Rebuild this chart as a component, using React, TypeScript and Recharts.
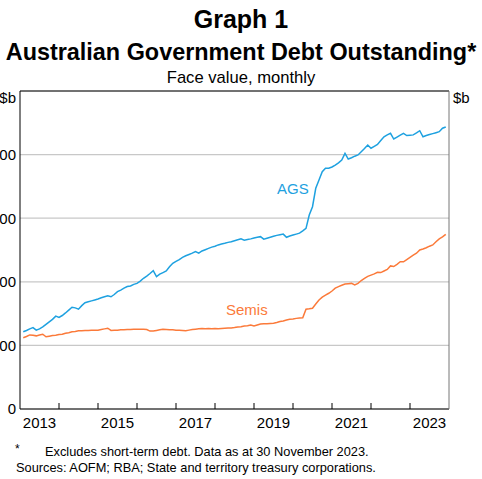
import {
  CartesianGrid,
  Line,
  LineChart,
  ReferenceLine,
  XAxis,
  YAxis,
} from "recharts";

// monthly, Jan 2013 .. Nov 2023, $b
const START_YEAR = 2013;
const ags = [
  243, 247, 252, 256, 248, 252, 258, 266, 274, 282, 292, 288,
  294, 302, 311, 320, 318, 314, 325, 334, 337, 340, 343, 346,
  350, 353, 356, 353, 360, 369, 374, 380, 385, 387, 392, 395,
  402, 411, 418, 426, 435, 416, 424, 429, 434, 447, 458, 464,
  470, 477, 482, 486, 490, 495, 490, 497, 501, 505, 509, 512,
  516, 519, 521, 524, 526, 529, 532, 535, 531, 533, 535, 538,
  540, 542, 534, 537, 540, 543, 546, 548, 550, 540, 544, 547,
  550, 553, 560, 568, 610, 636, 694, 720, 746, 757, 757, 761,
  767, 774, 783, 804, 786, 790, 795, 799, 809, 819, 830, 820,
  826, 832, 844, 856, 862, 867, 849, 855, 861, 867, 860, 861,
  862, 868, 875, 856, 860, 863, 866, 869, 872, 883, 887,
];
const semis = [
  224, 228, 233, 232, 230, 233, 235, 227, 229, 231, 232, 234,
  235, 238, 240, 243, 244, 246, 246, 247, 247, 248, 248, 248,
  250, 252, 254, 247, 248, 248, 249, 249, 250, 250, 251, 251,
  251, 251, 250, 245, 245, 247, 249, 251, 250, 249, 249, 248,
  248, 247, 246, 248, 250, 251, 252, 253, 252, 253, 252, 253,
  252, 253, 254, 255, 255, 256, 258, 259, 261, 262, 264, 261,
  264, 267, 268, 268, 269, 270, 272, 275, 277, 280, 282, 283,
  285, 286, 287, 314, 315, 317, 330, 343, 352, 358, 364, 371,
  380, 385, 389, 393, 394, 395, 390, 395, 404, 411, 417, 421,
  425, 430, 429, 434, 439, 450, 448, 455, 463, 463, 470, 477,
  484, 490, 500, 503, 507, 512, 516, 526, 535, 541, 549,
];
const yearBoundaries = [2014, 2015, 2016, 2017, 2018, 2019, 2020, 2021, 2022, 2023];
const yearLabels = [2013, 2015, 2017, 2019, 2021, 2023];
const yTicks = [0, 200, 400, 600, 800];

// points plotted at month end
const data = ags.map((v, i) => ({
  t: START_YEAR + (i + 1) / 12,
  ags: v,
  semis: semis[i],
}));

const xTicks = [...yearBoundaries, ...yearLabels.map((y) => y + 0.5)].sort(
  (a, b) => a - b
);

const FONT = "'Liberation Sans', Arial, sans-serif";
const BLUE = "#1ea1e0";
const ORANGE = "#fb7a3a";

function YearTick({ x, y, payload }: any) {
  const v = payload.value as number;
  if (Number.isInteger(v)) {
    return <line x1={x} x2={x} y1={y} y2={y - 6} stroke="#000" />;
  }
  return (
    <text x={x} y={y + 19} textAnchor="middle" fontSize={15} fill="#000" fontFamily={FONT}>
      {Math.floor(v)}
    </text>
  );
}

export default function App() {
  const tickStyle = { fill: "#000", fontSize: 15, fontFamily: FONT };
  return (
    <div
      style={{
        position: "absolute",
        left: 0,
        top: 0,
        width: 482,
        height: 479,
        background: "#fff",
        fontFamily: FONT,
        color: "#000",
        overflow: "hidden",
      }}
    >
      <div style={{ position: "absolute", top: 5, width: 482, textAlign: "center", fontSize: 25, fontWeight: 700 }}>
        Graph 1
      </div>
      <div style={{ position: "absolute", top: 39, width: 482, textAlign: "center", fontSize: 23.4, fontWeight: 700 }}>
        Australian Government Debt Outstanding*
      </div>
      <div style={{ position: "absolute", top: 68, width: 482, textAlign: "center", fontSize: 16.6 }}>
        Face value, monthly
      </div>
      <div style={{ position: "absolute", top: 89, right: 466, fontSize: 15 }}>$b</div>
      <div style={{ position: "absolute", top: 89, left: 453, fontSize: 15 }}>$b</div>

      <div style={{ position: "absolute", left: 0, top: 0 }}>
        <LineChart width={482} height={440} data={data} margin={{ top: 91, right: 0, bottom: 0, left: 0 }}>
          <CartesianGrid yAxisId="l" vertical={false} stroke="#c8c8c8" strokeWidth={1.2} />
          <XAxis
            dataKey="t"
            type="number"
            domain={[2013, 2024]}
            ticks={xTicks}
            interval={0}
            height={31}
            tickLine={false}
            tickSize={0}
            tickMargin={0}
            axisLine={{ stroke: "#000" }}
            tick={<YearTick />}
          />
          <YAxis
            yAxisId="l"
            orientation="left"
            width={20}
            domain={[0, 1000]}
            ticks={yTicks}
            interval={0}
            tickLine={false}
            tickSize={0}
            tickMargin={4}
            axisLine={{ stroke: "#000" }}
            tick={tickStyle}
          />
          <YAxis
            yAxisId="r"
            orientation="right"
            width={33}
            domain={[0, 1000]}
            ticks={yTicks}
            interval={0}
            tickLine={false}
            tickSize={0}
            tickMargin={4}
            axisLine={{ stroke: "#777" }}
            tick={{ ...tickStyle, textAnchor: "start" }}
          />
          <ReferenceLine yAxisId="l" y={1000} stroke="#000" />
          <Line
            yAxisId="l"
            dataKey="ags"
            type="linear"
            stroke={BLUE}
            strokeWidth={1.5}
            dot={false}
            isAnimationActive={false}
          />
          <Line
            yAxisId="l"
            dataKey="semis"
            type="linear"
            stroke={ORANGE}
            strokeWidth={1.5}
            dot={false}
            isAnimationActive={false}
          />
        </LineChart>
      </div>

      <div style={{ position: "absolute", left: 277, top: 180, fontSize: 15, color: BLUE }}>AGS</div>
      <div style={{ position: "absolute", left: 226, top: 301, fontSize: 15, color: ORANGE }}>Semis</div>

      <div style={{ position: "absolute", left: 15, top: 442, fontSize: 12 }}>*</div>
      <div style={{ position: "absolute", left: 45, top: 444, fontSize: 12.8 }}>
        Excludes short-term debt. Data as at 30 November 2023.
      </div>
      <div style={{ position: "absolute", left: 16, top: 460, fontSize: 12.8 }}>
        Sources: AOFM; RBA; State and territory treasury corporations.
      </div>
    </div>
  );
}
